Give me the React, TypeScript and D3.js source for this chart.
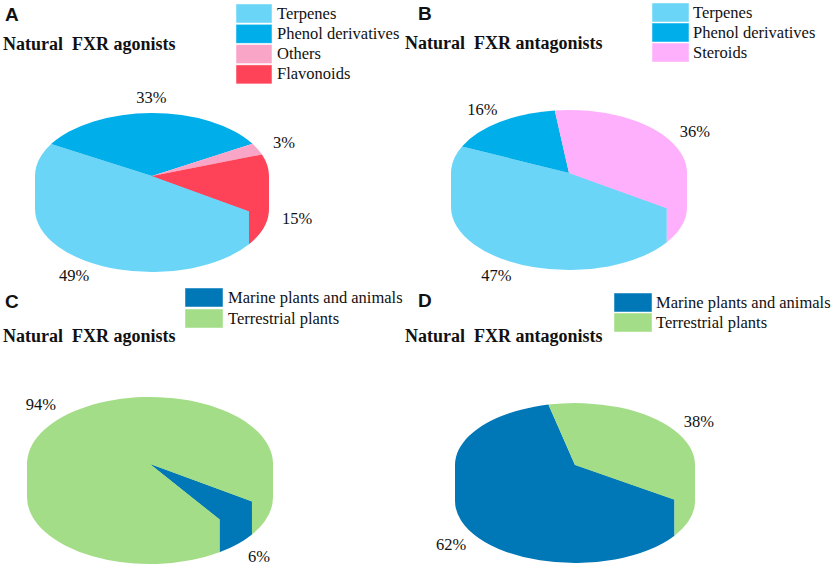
import * as d3 from 'd3';

// chemical classes (panels A, B)
const agonistClasses = ['Terpenes', 'Phenol derivatives', 'Others', 'Flavonoids'];
const agonistClassShare = [49, 33, 3, 15];
const antagonistClasses = ['Terpenes', 'Phenol derivatives', 'Steroids'];
const antagonistClassShare = [47, 16, 36];

// sources (panels C, D)
const sourceNames = ['Marine plants and animals', 'Terrestrial plants'];
const agonistSourceShare = [6, 94];
const antagonistSourceShare = [62, 38];

const colorFor: Record<string, string> = {
  Terpenes: '#6ad5f7',
  'Phenol derivatives': '#00aee9',
  Others: '#f9a5c8',
  Flavonoids: '#fe4358',
  Steroids: '#feb0fc',
  'Marine plants and animals': '#0077b7',
  'Terrestrial plants': '#a3dd87',
};

const SERIF = '"Times New Roman", "Liberation Serif", serif';
const SANS = 'Arial, "Liberation Sans", sans-serif';

interface Panel {
  letter: string;
  letterX: number;
  letterY: number;
  title: string;
  titleX: number;
  titleY: number;
  names: string[];
  values: number[];
  cx: number;
  cy: number;
  rx: number;
  ry: number;
  depth: number;
  legendX: number;
  legendY: number;
  legendStep: number;
  boxW: number;
  textX: number;
}

const panels: Panel[] = [
  {
    letter: 'A', letterX: 5, letterY: 21, title: 'Natural  FXR agonists', titleX: 3, titleY: 50,
    names: agonistClasses, values: agonistClassShare,
    cx: 152, cy: 176, rx: 117, ry: 63, depth: 33,
    legendX: 236, legendY: 4, legendStep: 20.3, boxW: 36, textX: 277,
  },
  {
    letter: 'B', letterX: 418, letterY: 20, title: 'Natural  FXR antagonists', titleX: 405, titleY: 49,
    names: antagonistClasses, values: antagonistClassShare,
    cx: 569, cy: 173, rx: 118, ry: 63, depth: 34,
    legendX: 652, legendY: 3, legendStep: 20, boxW: 37, textX: 693,
  },
  {
    letter: 'C', letterX: 5, letterY: 308, title: 'Natural  FXR agonists', titleX: 3, titleY: 342,
    names: sourceNames, values: agonistSourceShare,
    cx: 150, cy: 464, rx: 123, ry: 67, depth: 33,
    legendX: 185, legendY: 288, legendStep: 21, boxW: 38, textX: 228,
  },
  {
    letter: 'D', letterX: 418, letterY: 307, title: 'Natural  FXR antagonists', titleX: 405, titleY: 342,
    names: sourceNames, values: antagonistSourceShare,
    cx: 575, cy: 465, rx: 120, ry: 62, depth: 36,
    legendX: 614, legendY: 293, legendStep: 20, boxW: 38, textX: 656,
  },
];

// first slice begins ~34deg below the 3 o'clock direction, going clockwise
const START = (34 + 90) * (Math.PI / 180);

function Pie3D({ p }: { p: Panel }) {
  const pie = d3
    .pie<number>()
    .sort(null)
    .startAngle(START)
    .endAngle(START + 2 * Math.PI);
  const arcs = pie(p.values);

  // d3 angle (from 12 o'clock) -> ellipse parameter (from 3 o'clock, y down)
  const toTheta = (a: number) => a - Math.PI / 2;
  const pt = (t: number, dy = 0): [number, number] => [p.cx + p.rx * Math.cos(t), p.cy + dy + p.ry * Math.sin(t)];

  const tops = arcs.map((a, i) => {
    const t0 = toTheta(a.startAngle);
    const t1 = toTheta(a.endAngle);
    const [x0, y0] = pt(t0);
    const [x1, y1] = pt(t1);
    const large = t1 - t0 > Math.PI ? 1 : 0;
    const d = `M${p.cx},${p.cy}L${x0},${y0}A${p.rx},${p.ry} 0 ${large} 1 ${x1},${y1}Z`;
    return { d, name: p.names[i] };
  });

  // front wall pieces; each one is closed through the pie centre so it
  // also sits under its own top face and leaves no seam along the rim
  const sides: { d: string; name: string }[] = [];
  arcs.forEach((a, i) => {
    const t0 = toTheta(a.startAngle);
    const t1 = toTheta(a.endAngle);
    for (const k of [0, 2 * Math.PI]) {
      const s = Math.max(t0, k);
      const e = Math.min(t1, k + Math.PI);
      if (e - s <= 1e-6) continue;
      const [sx, sy] = pt(s);
      const [ex, ey] = pt(e);
      const [bex, bey] = pt(e, p.depth);
      const [bsx, bsy] = pt(s, p.depth);
      sides.push({
        d: `M${p.cx},${p.cy}L${sx},${sy}L${bsx},${bsy}A${p.rx},${p.ry} 0 0 1 ${bex},${bey}L${ex},${ey}Z`,
        name: p.names[i],
      });
    }
  });

  const labels = arcs.map((a, i) => {
    const t = toTheta((a.startAngle + a.endAngle) / 2);
    const k = 1.25;
    const front = Math.sin(t) > 0 ? p.depth : 0;
    return {
      x: p.cx + k * p.rx * Math.cos(t),
      y: p.cy + k * p.ry * Math.sin(t) + front + 5.5,
      text: `${p.values[i]}%`,
    };
  });

  return (
    <g>
      {sides.map((s, i) => (
        <path key={`s${i}`} d={s.d} fill={colorFor[s.name]} />
      ))}
      {tops.map((s, i) => (
        <path key={`t${i}`} d={s.d} fill={colorFor[s.name]} />
      ))}
      {labels.map((l, i) => (
        <text key={`l${i}`} x={l.x} y={l.y} textAnchor="middle" fontFamily={SERIF} fontSize={16.5} fill="#111">
          {l.text}
        </text>
      ))}
      <text x={p.letterX} y={p.letterY} fontFamily={SANS} fontWeight="bold" fontSize={19} fill="#111">
        {p.letter}
      </text>
      <text x={p.titleX} y={p.titleY} fontFamily={SERIF} fontWeight="bold" fontSize={18} fill="#111" style={{ whiteSpace: 'pre' }}>
        {p.title}
      </text>
      {p.names.map((n, i) => (
        <g key={`g${i}`}>
          <rect
            x={p.legendX}
            y={p.legendY + i * p.legendStep}
            width={p.boxW}
            height={19}
            fill={colorFor[n]}
            stroke="#ffffff"
            strokeOpacity={0.6}
            strokeWidth={0.8}
          />
          <text x={p.textX} y={p.legendY + i * p.legendStep + 14.5} fontFamily={SERIF} fontSize={16.5} fill="#111">
            {n}
          </text>
        </g>
      ))}
    </g>
  );
}

export default function App() {
  return (
    <svg
      width={837}
      height={567}
      viewBox="0 0 837 567"
      style={{ position: 'absolute', left: 0, top: 0, background: '#ffffff' }}
    >
      <rect width={837} height={567} fill="#ffffff" />
      {panels.map((p) => (
        <Pie3D key={p.letter} p={p} />
      ))}
    </svg>
  );
}
